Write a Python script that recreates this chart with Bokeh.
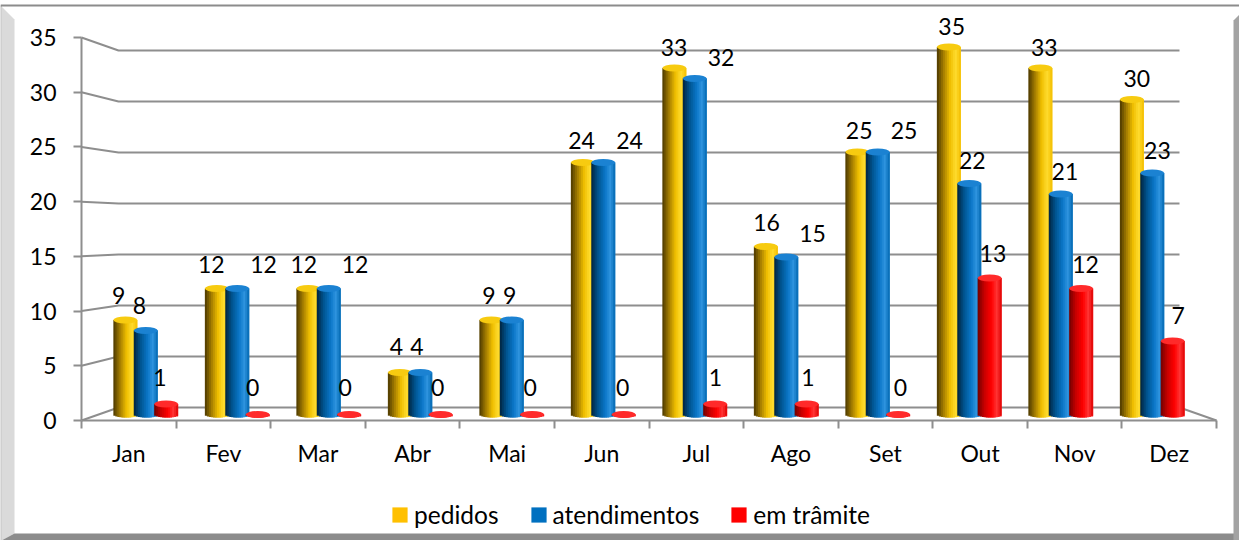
import numpy as np
from bokeh.plotting import figure
from bokeh.models import (Range1d, LinearAxis, FixedTicker, ColumnDataSource, Legend,
                          LegendItem, CustomJSTickFormatter, Span)
from bokeh.core.properties import value
from bokeh.embed import file_html
from bokeh.resources import INLINE

# ---------------- data ----------------
months = ["Jan", "Fev", "Mar", "Abr", "Mai", "Jun", "Jul", "Ago", "Set", "Out", "Nov", "Dez"]
pedidos = [9, 12, 12, 4, 9, 24, 33, 16, 25, 35, 33, 30]
atendimentos = [8, 12, 12, 4, 9, 24, 32, 15, 25, 22, 21, 23]
em_tramite = [1, 0, 0, 0, 0, 0, 1, 1, 0, 13, 12, 7]
series_names = ["pedidos", "atendimentos", "em trâmite"]
y_ticks = [0, 5, 10, 15, 20, 25, 30, 35]

# ---------------- layout / style ----------------
W, H = 1239, 540
FONT = "Lato"
FS = 23
LEG_FS = 24.5
GRID = "#8e8e8e"

# anchors (data0, px0, data1, px1) in figure pixel coordinates (y downward)
FRONT_X = (0, 81, 12, 1216)
FRONT_Y = (0, 420, 35, 37)
BACK_X = (0, 118, 12, 1179)
BACK_Y = (0, 407, 35, 50)
MID_X = (0, 99.5, 12, 1197.5)
MID_Y = (0, 414, 35, 46.5)
LAB_X = (0, 92.6, 12, 92.6 + 12 * 92.55)
LAB_Y = (0, 387.3, 35, 387.3 - 35 * 10.31)


def to_px(a, d):
    d0, p0, d1, p1 = a
    return p0 + (d - d0) * (p1 - p0) / (d1 - d0)


def to_data(a, px):
    d0, p0, d1, p1 = a
    return d0 + (px - p0) * (d1 - d0) / (p1 - p0)


def xr(a):
    return Range1d(to_data(a, 0), to_data(a, W))


def yr(a):
    return Range1d(to_data(a, H), to_data(a, 0))


p = figure(width=W, height=H, x_range=Range1d(0, W), y_range=Range1d(H, 0),
           output_backend="svg", toolbar_location=None, x_axis_type=None, y_axis_type=None,
           min_border=0, min_border_left=0, min_border_right=0, min_border_top=0,
           min_border_bottom=0)
p.outline_line_color = None
p.background_fill_color = "white"
p.border_fill_color = "white"
p.extra_x_ranges = {"fx": xr(FRONT_X), "mx": xr(MID_X), "lx": xr(LAB_X)}
p.extra_y_ranges = {"fy": yr(FRONT_Y), "my": yr(MID_Y), "ly": yr(LAB_Y)}

# ---------------- frame decoration ----------------
p.patch([0, 1, 1, 0], [5, 5, H, H], fill_color="#8c8c8c", line_color=None)
p.patch([1, 14, 14, 1], [6, 19, 533, H], fill_color="#dadada", line_color=None)
p.patch([1, 14, W, W], [H, 533, 533, H], fill_color="#8c8c8c", line_color=None)
p.patch([1233, W, W, 1233], [20, 14, H, H], fill_color="#a3a3a3", line_color=None)
p.add_layout(Span(location=5, dimension="width", line_color="#8c8c8c", line_width=2))

# ---------------- 3D walls / gridlines ----------------
gx, gy = [], []
for v in y_ticks[1:]:
    gx.append([to_px(FRONT_X, 0), to_px(BACK_X, 0), to_px(BACK_X, 12)])
    gy.append([to_px(FRONT_Y, v), to_px(BACK_Y, v), to_px(BACK_Y, v)])
gx.append([to_px(FRONT_X, 0), to_px(BACK_X, 0), to_px(BACK_X, 12), to_px(FRONT_X, 12)])
gy.append([to_px(FRONT_Y, 0), to_px(BACK_Y, 0), to_px(BACK_Y, 0), to_px(FRONT_Y, 0)])
p.multi_line(gx, gy, line_color=GRID, line_width=2)

# ---------------- axes ----------------
yax = LinearAxis(y_range_name="fy", fixed_location=to_px(FRONT_X, 0),
                 ticker=FixedTicker(ticks=y_ticks), bounds=(y_ticks[0], y_ticks[-1]))
yax.axis_line_color = GRID
yax.axis_line_width = 2
yax.major_tick_line_color = GRID
yax.major_tick_line_width = 2
yax.major_tick_out = 8
yax.major_tick_in = 0
yax.minor_tick_line_color = None
yax.major_label_text_font = FONT
yax.major_label_text_font_size = f"{FS}px"
yax.major_label_text_color = "black"
yax.major_label_standoff = 17
p.add_layout(yax, "left")

xax = LinearAxis(x_range_name="fx", fixed_location=to_px(FRONT_Y, 0),
                 ticker=FixedTicker(ticks=[i + 0.5 for i in range(len(months))],
                                    minor_ticks=list(range(len(months) + 1))),
                 bounds=(0, len(months)))
xax.formatter = CustomJSTickFormatter(args=dict(labels=months),
                                      code="return labels[Math.round(tick - 0.5)] || '';")
xax.axis_line_color = GRID
xax.axis_line_width = 2
xax.major_tick_line_color = None
xax.major_tick_out = 0
xax.major_tick_in = 0
xax.minor_tick_line_color = GRID
xax.minor_tick_line_width = 2
xax.minor_tick_out = 8
xax.minor_tick_in = 0
xax.major_label_text_font = FONT
xax.major_label_text_font_size = f"{FS}px"
xax.major_label_text_color = "black"
xax.major_label_standoff = 10
p.add_layout(xax, "below")

# ---------------- cylinders ----------------
series = [pedidos, atendimentos, em_tramite]
legend_colors = ["#FFC000", "#0070C0", "#FF0000"]
stops = [
    [(0.0, "#4a3800"), (0.25, "#9c7600"), (0.55, "#efbf00"), (0.78, "#ffdc2e"), (1.0, "#f3bd00")],
    [(0.0, "#00233d"), (0.28, "#00548f"), (0.58, "#0a76c8"), (0.8, "#2f94df"), (1.0, "#0066b0")],
    [(0.0, "#700000"), (0.28, "#c80000"), (0.58, "#ff0000"), (0.8, "#ff3535"), (1.0, "#df0000")],
]
caps = ["#f7cb10", "#1b82d2", "#ff2a2a"]

BW = 0.262
OFF = 0.223
NS = 12
px_per_unit = (to_px(MID_Y, 0) - to_px(MID_Y, 35)) / 35
HB = 3.0 / px_per_unit


def hx(c):
    c = c.lstrip("#")
    return np.array([int(c[i:i + 2], 16) for i in (0, 2, 4)], float)


def grad(st, t):
    for (t0, c0), (t1, c1) in zip(st[:-1], st[1:]):
        if t0 <= t <= t1:
            f = (t - t0) / (t1 - t0)
            c = hx(c0) * (1 - f) + hx(c1) * f
            return "#%02x%02x%02x" % tuple(int(round(x)) for x in c)
    return st[-1][1]


SW = BW / NS
for s, vals in enumerate(series):
    ls, rs, tops, bots, cols = [], [], [], [], []
    cx = []
    for i, v in enumerate(vals):
        bx = i + 0.5 + (s - 1) * OFF
        cx.append(bx)
        for k in range(NS):
            u = (k + 0.5) / NS
            left = bx - BW / 2 + k * SW
            right = left + (2 * SW if k < NS - 1 else SW)
            ls.append(left)
            rs.append(right)
            tops.append(v)
            bots.append(-HB * np.sqrt(max(0.0, 1 - (2 * u - 1) ** 2)))
            cols.append(grad(stops[s], u))
    src = ColumnDataSource(dict(left=ls, right=rs, top=tops, bottom=bots, color=cols))
    p.quad(left="left", right="right", top="top", bottom="bottom", fill_color="color",
           line_color=None, source=src, x_range_name="mx", y_range_name="my")
    p.ellipse(x=cx, y=vals, width=BW, height=7, height_units="screen", fill_color=caps[s],
              line_color=None, x_range_name="mx", y_range_name="my")

# ---------------- value labels ----------------
lx_d, ly_d, lt, ldx = [], [], [], []
boxes = {}
for s, vals in enumerate(series):
    for i, v in enumerate(vals):
        bx = i + 0.5 + (s - 1) * OFF
        t = str(v)
        hw = 0.29 * FS * len(t)
        cxp = to_px(LAB_X, bx)
        cyp = to_px(LAB_Y, v)
        dx = 0.0
        if s > 0:
            pl, pr, pt, pb = boxes[(s - 1, i)]
            ox = min(cxp + hw, pr) - max(cxp - hw, pl)
            oy = min(cyp + FS / 2, pb) - max(cyp - FS / 2, pt)
            if ox > 0 and oy > 0:
                right_edge = to_px(MID_X, bx + BW / 2)
                dx = right_edge + 1 + hw - cxp
        boxes[(s, i)] = (cxp + dx - hw, cxp + dx + hw, cyp - FS / 2, cyp + FS / 2)
        lx_d.append(bx)
        ly_d.append(v)
        lt.append(t)
        ldx.append(dx)

lsrc = ColumnDataSource(dict(x=lx_d, y=ly_d, t=lt, dx=ldx))
p.text(x="x", y="y", text="t", x_offset="dx", source=lsrc, x_range_name="lx", y_range_name="ly",
       text_font=value(FONT), text_font_size=value(f"{FS}px"), text_align="center",
       text_baseline="middle", text_color="black")

# ---------------- legend ----------------
items = []
for name, col in zip(series_names, legend_colors):
    r = p.quad(left=[-50], right=[-40], top=[-50], bottom=[-40], fill_color=col, line_color=None)
    items.append(LegendItem(label=name, renderers=[r]))
legend = Legend(items=items, location=(390, 11), orientation="horizontal",
                glyph_width=19, glyph_height=19, label_standoff=5, spacing=30,
                padding=0, margin=0, border_line_color=None, background_fill_alpha=0,
                label_text_font=FONT, label_text_font_size=f"{LEG_FS}px", label_height=19,
                label_text_color="black")
p.add_layout(legend)

open("out.html", "w").write(file_html(p, INLINE))
